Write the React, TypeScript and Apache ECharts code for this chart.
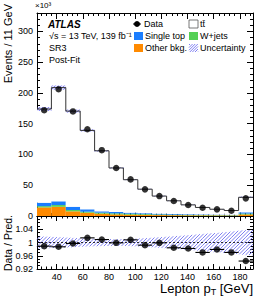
import React, { useEffect, useRef } from "react";
import * as echarts from "echarts";

// ---- data (×10^3 events per 11 GeV bin) ----
const binEdges = [25, 36, 47, 58, 69, 80, 91, 102, 113, 124, 135, 146, 157, 168, 179, 190];
const dataEvents = [172, 206, 170, 141, 107, 78, 59.5, 43.3, 32.4, 24.3, 17.8, 13.5, 10.8, 8.6, 28.7];
const ttbar = [152.3, 184.9, 155.5, 128.3, 98.4, 71.6, 53.6, 39.1, 28.6, 21.4, 15.2, 11.3, 8.7, 6.8, 24.4];
const singleTop = [5.6, 6.0, 5.3, 3.8, 2.2, 2.2, 1.6, 1.5, 1.3, 1.1, 1.0, 0.9, 0.8, 0.7, 2.0];
const wJets = [2.0, 2.8, 2.1, 1.6, 1.6, 1.6, 1.6, 1.2, 1.0, 0.9, 0.8, 0.7, 0.6, 0.6, 1.5];
const otherBkg = [14.0, 15.0, 7.6, 5.4, 3.8, 2.7, 2.2, 1.8, 1.5, 1.3, 1.1, 1.0, 0.9, 0.8, 2.5];
const ratio = [0.989, 0.987, 0.997, 1.014, 1.009, 0.999, 1.008, 0.992, 0.999, 0.984, 0.982, 0.97, 0.979, 0.97, 0.944];
const relUnc = [0.018, 0.016, 0.014, 0.012, 0.011, 0.01, 0.011, 0.013, 0.016, 0.019, 0.022, 0.026, 0.029, 0.033, 0.038];

// ---- tick labels ----
const xMajor = [40, 60, 80, 100, 120, 140, 160, 180];
const yMainMajor = [0, 50, 100, 150, 200, 250, 300];
const yRatioMajor = [0.92, 0.96, 1, 1.04, 1.08];
const yRatioLabels = [0.92, 0.96, 1, 1.04];

const X_MIN = 25, X_MAX = 190, Y_MAX = 330, R_MIN = 0.92, R_MAX = 1.08;

const FONT = "'Liberation Sans', Arial, Helvetica, sans-serif";
const C_ORANGE = "#ff8a00";
const C_GREEN = "#55d055";
const C_BLUE = "#1a7dff";
const C_HATCH = "#7272f0";

function range(a: number, b: number, s: number) {
  const out: number[] = [];
  for (let i = 0; a + i * s <= b + 1e-9; i++) out.push(+(a + i * s).toFixed(4));
  return out;
}
const xMinor = range(24, 190, 4).filter((v) => v >= X_MIN && v % 20 !== 0);
const yMainMinor = range(0, Y_MAX, 10).filter((v) => v % 50 !== 0);
const yRatioMinor = range(R_MIN, R_MAX, 0.01).filter(
  (v) => !yRatioMajor.some((m) => Math.abs(m - v) < 1e-6)
);

const centers = dataEvents.map((_, i) => (binEdges[i] + binEdges[i + 1]) / 2);
const totals = ttbar.map((t, i) => t + singleTop[i] + wJets[i] + otherBkg[i]);

function restrict(t0: number, t1: number, ga: number, gb: number, c: number, le: boolean) {
  const d = gb - ga;
  if (Math.abs(d) < 1e-9) {
    const ok = le ? ga <= c : ga >= c;
    return ok ? [t0, t1] : [1, 0];
  }
  const ts = (c - ga) / d;
  if ((le && d > 0) || (!le && d < 0)) return [t0, Math.min(t1, ts)];
  return [Math.max(t0, ts), t1];
}

function hatch(xs: number[], tops: number[], bots: number[], step: number, z?: number) {
  const out: any[] = [];
  let cMin = Infinity, cMax = -Infinity;
  for (let i = 0; i < xs.length; i++) {
    cMin = Math.min(cMin, xs[i] + tops[i]);
    cMax = Math.max(cMax, xs[i] + bots[i]);
  }
  const start = Math.floor(cMin / step) * step;
  for (let c = start; c <= cMax; c += step) {
    for (let i = 0; i < xs.length - 1; i++) {
      const xa = xs[i], xb = xs[i + 1];
      if (xb - xa <= 0) continue;
      let t = [0, 1];
      t = restrict(t[0], t[1], xa + tops[i], xb + tops[i + 1], c, true);
      t = restrict(t[0], t[1], xa + bots[i], xb + bots[i + 1], c, false);
      if (t[1] - t[0] > 1e-6) {
        const x0 = xa + (xb - xa) * t[0];
        const x1 = xa + (xb - xa) * t[1];
        const el: any = {
          type: "line",
          shape: { x1: x0, y1: c - x0, x2: x1, y2: c - x1 },
          style: { stroke: C_HATCH, lineWidth: 0.9 },
        };
        if (z !== undefined) el.z = z;
        out.push(el);
      }
    }
  }
  return out;
}

function xAxisCfg(grid: number, pos: "top" | "bottom", major: boolean, labels: boolean, len: number) {
  return {
    type: "value",
    gridIndex: grid,
    position: pos,
    min: X_MIN,
    max: X_MAX,
    axisLine: { show: major, onZero: false, lineStyle: { color: "#000", width: 1 } },
    axisTick: {
      show: true,
      inside: true,
      length: len,
      customValues: major ? xMajor : xMinor,
      lineStyle: { color: "#000", width: 1 },
    },
    axisLabel: {
      show: labels,
      customValues: xMajor,
      color: "#000",
      fontSize: 9,
      fontFamily: FONT,
      margin: 3,
    },
    splitLine: { show: false },
  };
}

function yAxisCfg(
  grid: number,
  pos: "left" | "right",
  major: boolean,
  labels: boolean,
  len: number,
  min: number,
  max: number,
  majorVals: number[],
  minorVals: number[],
  labelVals: number[]
) {
  return {
    type: "value",
    gridIndex: grid,
    position: pos,
    min,
    max,
    axisLine: { show: major, onZero: false, lineStyle: { color: "#000", width: 1 } },
    axisTick: {
      show: true,
      inside: true,
      length: len,
      customValues: major ? majorVals : minorVals,
      lineStyle: { color: "#000", width: 1 },
    },
    axisLabel: {
      show: labels,
      customValues: labelVals,
      color: "#000",
      fontSize: 9,
      fontFamily: FONT,
      margin: 4,
      formatter: (v: number) => String(Number(v.toFixed(2))),
    },
    splitLine: { show: false },
  };
}

function buildOption(): any {
  const xAxes = [
    xAxisCfg(0, "bottom", true, false, 6), // 0
    xAxisCfg(0, "bottom", false, false, 3),
    xAxisCfg(0, "top", true, false, 6),
    xAxisCfg(0, "top", false, false, 3),
    xAxisCfg(1, "bottom", true, true, 5), // 4
    xAxisCfg(1, "bottom", false, false, 2.5),
    xAxisCfg(1, "top", true, false, 5),
    xAxisCfg(1, "top", false, false, 2.5),
  ];
  const yAxes = [
    yAxisCfg(0, "left", true, true, 6, 0, Y_MAX, yMainMajor, yMainMinor, yMainMajor), // 0
    yAxisCfg(0, "left", false, false, 3, 0, Y_MAX, yMainMajor, yMainMinor, yMainMajor),
    yAxisCfg(0, "right", true, false, 6, 0, Y_MAX, yMainMajor, yMainMinor, yMainMajor),
    yAxisCfg(0, "right", false, false, 3, 0, Y_MAX, yMainMajor, yMainMinor, yMainMajor),
    yAxisCfg(1, "left", true, true, 6, R_MIN, R_MAX, yRatioMajor, yRatioMinor, yRatioLabels), // 4
    yAxisCfg(1, "left", false, false, 3, R_MIN, R_MAX, yRatioMajor, yRatioMinor, []),
    yAxisCfg(1, "right", true, false, 6, R_MIN, R_MAX, yRatioMajor, yRatioMinor, []),
    yAxisCfg(1, "right", false, false, 3, R_MIN, R_MAX, yRatioMajor, yRatioMinor, []),
  ];

  const stackData = dataEvents.map((_, i) => [
    binEdges[i],
    binEdges[i + 1],
    otherBkg[i],
    wJets[i],
    singleTop[i],
    ttbar[i],
  ]);

  const series: any[] = [
    {
      type: "custom",
      name: "stack",
      xAxisIndex: 0,
      yAxisIndex: 0,
      z: 2,
      data: stackData,
      renderItem: (_p: any, api: any) => {
        const lo = api.value(0), hi = api.value(1);
        const vals = [api.value(2), api.value(3), api.value(4), api.value(5)];
        const colors = [C_ORANGE, C_GREEN, C_BLUE, "#ffffff"];
        let base = 0;
        const children: any[] = [];
        vals.forEach((v, k) => {
          const p0 = api.coord([lo, base]);
          const p1 = api.coord([hi, base + v]);
          children.push({
            type: "rect",
            shape: { x: p0[0], y: p1[1], width: p1[0] - p0[0], height: p0[1] - p1[1] },
            style: { fill: colors[k], stroke: null },
          });
          base += v;
        });
        return { type: "group", children };
      },
    },
    {
      type: "custom",
      name: "uncMain",
      xAxisIndex: 0,
      yAxisIndex: 0,
      z: 3,
      data: totals.map((t, i) => [binEdges[i], binEdges[i + 1], t * (1 - relUnc[i]), t * (1 + relUnc[i])]),
      renderItem: (_p: any, api: any) => {
        const a = api.coord([api.value(0), api.value(3)]);
        const b = api.coord([api.value(1), api.value(2)]);
        return {
          type: "group",
          children: [
            {
              type: "rect",
              shape: { x: a[0], y: a[1], width: b[0] - a[0], height: b[1] - a[1] },
              style: { fill: "rgba(140,140,255,0.25)", stroke: null },
            },
            ...hatch([a[0], b[0]], [a[1], a[1]], [b[1], b[1]], 3),
          ],
        };
      },
    },
    {
      type: "custom",
      name: "stepLine",
      xAxisIndex: 0,
      yAxisIndex: 0,
      z: 4,
      data: [[X_MIN, 0]],
      renderItem: (_p: any, api: any) => {
        const pts: number[][] = [];
        totals.forEach((t, i) => {
          pts.push(api.coord([binEdges[i], t]));
          pts.push(api.coord([binEdges[i + 1], t]));
        });
        return {
          type: "polyline",
          shape: { points: pts },
          style: { stroke: "#333", lineWidth: 1, fill: null },
        };
      },
    },
    {
      type: "scatter",
      name: "Data",
      xAxisIndex: 0,
      yAxisIndex: 0,
      z: 6,
      symbol: "circle",
      symbolSize: 6.5,
      itemStyle: { color: "#000" },
      data: centers.map((c, i) => [c, dataEvents[i]]),
    },
    // ratio panel
    {
      type: "custom",
      name: "uncRatio",
      xAxisIndex: 4,
      yAxisIndex: 4,
      z: 3,
      data: [[X_MIN, 1]],
      renderItem: (_p: any, api: any) => {
        const xsV = [X_MIN, ...centers, X_MAX];
        const uV = [relUnc[0], ...relUnc, relUnc[relUnc.length - 1]];
        const xs = xsV.map((x) => api.coord([x, 1])[0]);
        const tops = xsV.map((x, i) => api.coord([x, 1 + uV[i]])[1]);
        const bots = xsV.map((x, i) => api.coord([x, 1 - uV[i]])[1]);
        return { type: "group", children: hatch(xs, tops, bots, 3.5) };
      },
    },
    {
      type: "custom",
      name: "unity",
      xAxisIndex: 4,
      yAxisIndex: 4,
      z: 4,
      data: [[X_MIN, 1]],
      renderItem: (_p: any, api: any) => {
        const a = api.coord([X_MIN, 1]);
        const b = api.coord([X_MAX, 1]);
        return {
          type: "line",
          shape: { x1: a[0], y1: a[1], x2: b[0], y2: b[1] },
          style: { stroke: "#000", lineWidth: 0.8, lineDash: [2, 2] },
        };
      },
    },
    {
      type: "custom",
      name: "xerr",
      xAxisIndex: 4,
      yAxisIndex: 4,
      z: 5,
      data: ratio.map((r, i) => [binEdges[i], binEdges[i + 1], r]),
      renderItem: (_p: any, api: any) => {
        const a = api.coord([api.value(0), api.value(2)]);
        const b = api.coord([api.value(1), api.value(2)]);
        return {
          type: "line",
          shape: { x1: a[0], y1: a[1], x2: b[0], y2: b[1] },
          style: { stroke: "#000", lineWidth: 1.1 },
        };
      },
    },
    {
      type: "scatter",
      name: "Ratio",
      xAxisIndex: 4,
      yAxisIndex: 4,
      z: 6,
      symbol: "circle",
      symbolSize: 6.5,
      itemStyle: { color: "#000" },
      data: centers.map((c, i) => [c, ratio[i]]),
    },
  ];

  const txt = (x: number, y: number, text: string, extra: any = {}) => ({
    type: "text",
    x,
    y,
    z: 100,
    style: {
      text,
      fill: "#000",
      fontSize: 9,
      fontFamily: FONT,
      textAlign: "left",
      textVerticalAlign: "middle",
      ...extra,
    },
  });
  const box = (x: number, y: number, fill: string, stroke: any = null) => ({
    type: "rect",
    z: 100,
    shape: { x, y, width: 9, height: 8 },
    style: { fill, stroke, lineWidth: 0.8 },
  });

  const graphic: any[] = [
    txt(35, 5, "×10³", { fontSize: 8 }),
    txt(48, 24, "ATLAS", { fontSize: 10, fontWeight: "bold", fontStyle: "italic" }),
    txt(49, 36, "√s = 13 TeV, 139 fb⁻¹"),
    txt(49, 48, "SR3"),
    txt(49, 60, "Post-Fit"),
    // legend
    { type: "line", z: 100, shape: { x1: 133, y1: 24, x2: 141, y2: 24 }, style: { stroke: "#000", lineWidth: 1 } },
    { type: "circle", z: 100, shape: { cx: 137, cy: 24, r: 3 }, style: { fill: "#000" } },
    txt(144, 24, "Data"),
    box(189, 20, "#fff", "#555"),
    txt(200, 24, "tt̄"),
    box(134, 32, C_BLUE),
    txt(145, 36, "Single top"),
    box(189, 32, C_GREEN),
    txt(200, 36, "W+jets"),
    box(134, 44, C_ORANGE),
    txt(145, 48, "Other bkg."),
    ...hatch([189, 198], [44, 44], [52, 52], 2.6, 100),
    txt(200, 48, "Uncertainty"),
    {
      type: "text",
      x: 253,
      y: 288,
      z: 100,
      style: {
        text: "{a|Lepton p}{s|T}{a| [GeV]}",
        textAlign: "right",
        textVerticalAlign: "middle",
        rich: {
          a: { fontSize: 13, fontFamily: FONT, fill: "#000" },
          s: { fontSize: 9, fontFamily: FONT, fill: "#000", padding: [7, 0, 0, 0] },
        },
      },
    },
    {
      type: "text",
      x: 8,
      y: 4,
      z: 100,
      rotation: Math.PI / 2,
      style: {
        text: "Events / 11 GeV",
        fill: "#000",
        fontSize: 11,
        fontFamily: FONT,
        textAlign: "right",
        textVerticalAlign: "middle",
      },
    },
    {
      type: "text",
      x: 8,
      y: 243,
      z: 100,
      rotation: Math.PI / 2,
      style: {
        text: "Data / Pred.",
        fill: "#000",
        fontSize: 10.5,
        fontFamily: FONT,
        textAlign: "center",
        textVerticalAlign: "middle",
      },
    },
  ];

  return {
    animation: false,
    backgroundColor: "#fff",
    grid: [
      { left: 37, right: 13, top: 13, height: 203 },
      { left: 37, right: 13, top: 216, height: 53 },
    ],
    xAxis: xAxes,
    yAxis: yAxes,
    series,
    graphic,
  };
}

export default function App() {
  const ref = useRef<HTMLDivElement>(null);
  useEffect(() => {
    if (!ref.current) return;
    const chart = echarts.init(ref.current, undefined, { renderer: "svg" });
    chart.setOption(buildOption());
    return () => chart.dispose();
  }, []);
  return (
    <div
      ref={ref}
      style={{ position: "absolute", left: 0, top: 0, width: 266, height: 300, background: "#fff" }}
    />
  );
}
